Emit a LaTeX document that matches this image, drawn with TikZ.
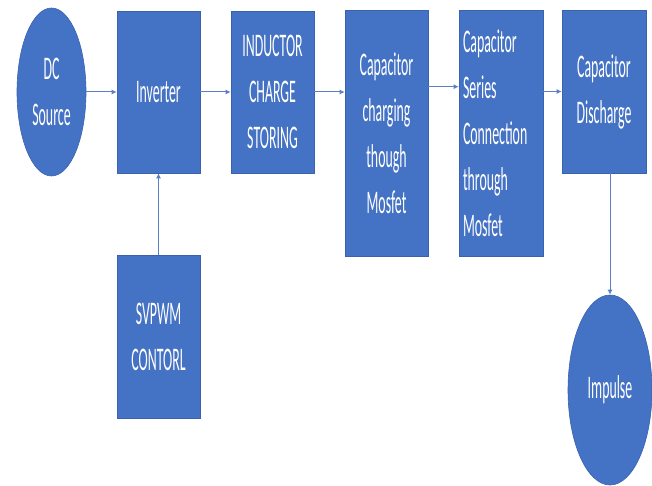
\documentclass[tikz,border=0pt]{standalone}
\usepackage{fontspec}
\newfontfamily\cf[FakeStretch=0.42]{Carlito}
\usetikzlibrary{shapes.geometric,arrows.meta}
\definecolor{boxblue}{HTML}{4472C4}
\definecolor{edgeblue}{HTML}{3A62AE}
\definecolor{lineblue}{HTML}{5B7FC4}
\begin{document}
\begin{tikzpicture}[x=1pt,y=-1pt,
  blk/.style={rectangle,fill=boxblue,draw=edgeblue,line width=0.6pt,inner sep=0pt,
    text=white,font=\cf\fontsize{33}{46}\selectfont,align=center},
  oval/.style={ellipse,fill=boxblue,draw=edgeblue,line width=0.6pt,inner sep=0pt,
    text=white,font=\cf\fontsize{33}{46}\selectfont,align=center},
  arr/.style={-{Latex[length=5pt,width=5pt]},draw=lineblue,line width=1pt}]
\useasboundingbox[fill=white] (0,0) rectangle (652,486);
\node[oval,minimum width=69,minimum height=168] (dc) at (51.5,92) {DC\\Source};
\node[blk,minimum width=83,minimum height=162] (inv) at (158.5,92) {Inverter};
\node[blk,minimum width=83,minimum height=162] (ind) at (272.5,92) {INDUCTOR\\CHARGE\\STORING};
\node[blk,minimum width=83,minimum height=246] (chg) at (386.5,133) {Capacitor\\charging\\though\\Mosfet};
\node[blk,minimum width=84,minimum height=246,align=left,text width=76] (ser) at (501,133) {Capacitor\\Series\\Connection\\through\\Mosfet};
\node[blk,minimum width=84,minimum height=163] (dis) at (604,91.5) {Capacitor\\Discharge};
\node[blk,minimum width=83,minimum height=163] (svp) at (158.5,336.5) {SVPWM\\CONTORL};
\node[oval,minimum width=84,minimum height=190] (imp) at (610,390) {Impulse};
\draw[arr] (dc) -- (inv);
\draw[arr] (inv) -- (ind);
\draw[arr] (ind.east) -- (ind.east -| chg.west);
\draw[arr] ([yshift=-77pt]chg.north east) -- ([yshift=-77pt]ser.north west);
\draw[arr] (dis.west -| ser.east) -- (dis.west);
\draw[arr] (svp) -- (inv);
\draw[arr] (dis.south -| imp.north) -- (imp.north);
\end{tikzpicture}
\end{document}
